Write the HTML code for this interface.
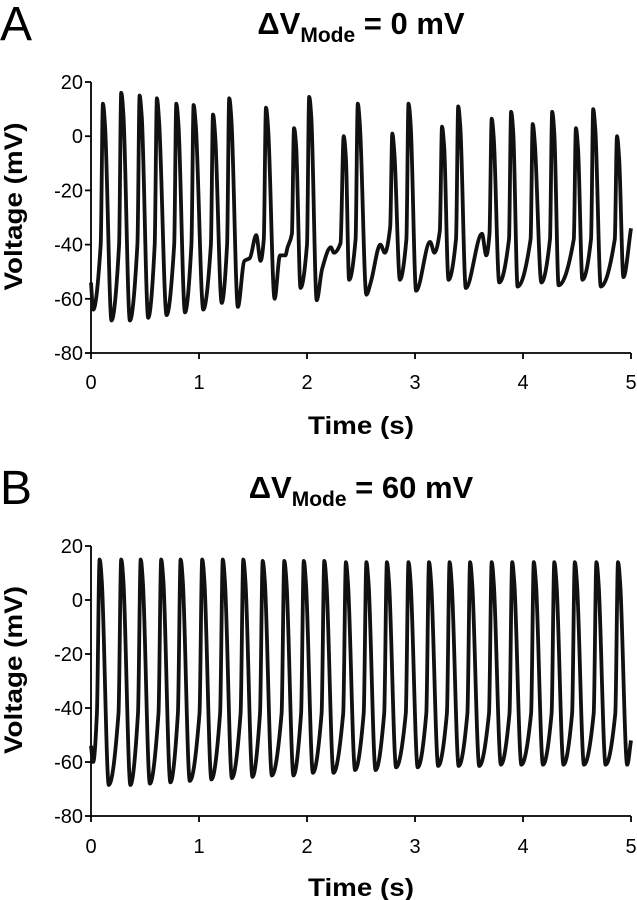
<!DOCTYPE html>
<html><head><meta charset="utf-8"><style>
body{margin:0;background:#fff;}
svg{display:block;font-family:"Liberation Sans",Arial,sans-serif;}
</style></head><body>
<svg id="fig" width="637" height="900" viewBox="0 0 637 900">
<text x="0" y="40" font-size="48">A</text>
<text x="361" y="34" font-size="31" font-weight="bold" text-anchor="middle">ΔV<tspan font-size="21" dy="8">Mode</tspan><tspan dy="-8"> = 0 mV</tspan></text>
<text x="0" y="504" font-size="48">B</text>
<text x="361" y="498" font-size="31" font-weight="bold" text-anchor="middle">ΔV<tspan font-size="21" dy="8">Mode</tspan><tspan dy="-8"> = 60 mV</tspan></text>
<g id="gA"></g>
<g id="gB"></g>
</svg>
<script>
const xTicks=[0,1,2,3,4,5];
const yTicks=[20,0,-20,-40,-60,-80];
const tA=[0,0.02,0.09,0.11,0.13,0.19,0.26,0.28,0.30,0.36,0.43,0.45,0.47,0.53,0.59,0.61,0.63,0.70,0.77,0.79,0.81,0.87,0.93,0.95,0.97,1.04,1.11,1.13,1.15,1.21,1.26,1.28,1.30,1.36,1.42,1.47,1.53,1.57,1.60,1.62,1.64,1.70,1.75,1.80,1.82,1.86,1.88,1.90,1.94,2.00,2.02,2.04,2.09,2.14,2.22,2.25,2.31,2.34,2.36,2.39,2.45,2.47,2.49,2.55,2.59,2.68,2.72,2.77,2.79,2.81,2.86,2.92,2.94,2.96,3.01,3.14,3.18,3.23,3.25,3.27,3.31,3.38,3.40,3.42,3.47,3.62,3.66,3.69,3.71,3.73,3.78,3.87,3.89,3.91,3.95,4.07,4.09,4.11,4.17,4.25,4.27,4.29,4.33,4.47,4.49,4.51,4.55,4.63,4.65,4.67,4.72,4.85,4.87,4.89,4.93,5.0];
const vA=[-54,-64,-40,12,4,-68,-40,16,8,-68,-40,15,7,-67,-40,14,6,-66,-40,12,4,-65,-40,11.5,4,-64,-40,8,0,-61.5,-40,14,6,-63,-46,-45,-36.5,-46,-38,10.5,3,-60,-44,-44,-41,-36,3,-4,-56,-40,14.5,7,-60.5,-49,-41,-43,-39.5,0,-8,-53,-38,12,4,-58.5,-54,-40,-43,-33.5,1,-7,-53,-38,12,4,-57,-39,-43,-35,3.5,-4,-53,-38,11,3,-56,-36,-44,-36,6.5,-1,-54,-38,9,1,-55.5,-38,4.5,-3,-54,-38,9,1,-55,-38,3,-5,-53,-38,10,2,-55.5,-38,0,-8,-52,-34];
const peakTB=[0.08,0.28,0.46,0.65,0.83,1.03,1.22,1.41,1.59,1.79,1.97,2.16,2.36,2.55,2.74,2.94,3.13,3.32,3.51,3.71,3.90,4.10,4.29,4.48,4.68,4.88];
const peakVB=[15,15,15,15,15,15,15,15,14.5,14.5,14.5,14.5,14,14,14,14,14,14,14,14,14,14,14,14,14,14];
const troughVB=[-68.5,-68.5,-68,-67.5,-67,-66.5,-66,-65.5,-65,-65,-64,-64,-63,-63,-62,-62,-61.5,-61.5,-61.5,-61,-61,-61,-61,-61,-61,-61];
const NS='http://www.w3.org/2000/svg';
function mk(tag,attrs,parent){const e=document.createElementNS(NS,tag);for(const k in attrs)e.setAttribute(k,attrs[k]);parent.appendChild(e);return e;}
function axes(g,top,bottom,xLabY,titleY){
  const x0=91,x1=631;
  const sx=t=>x0+t*(x1-x0)/5;
  const sy=v=>top+(20-v)*(bottom-top)/100;
  const ax=mk('path',{d:`M${x0} ${top}V${bottom}H${x1}`,stroke:'#000','stroke-width':1.8,fill:'none'},g);
  
  
  yTicks.forEach(v=>{
    const tk=mk('line',{x1:x0-6,x2:x0,y1:sy(v),y2:sy(v),stroke:'#000','stroke-width':1.8},g);
    
    
    const tx=mk('text',{x:x0-8,y:sy(v)+7,'font-size':20,'text-anchor':'end'},g);
    tx.textContent=v;
    
    
  });
  xTicks.forEach(t=>{
    const tk=mk('line',{x1:sx(t),x2:sx(t),y1:bottom,y2:bottom+6,stroke:'#000','stroke-width':1.8},g);
    
    
    const tx=mk('text',{x:sx(t),y:xLabY,'font-size':20,'text-anchor':'middle'},g);
    tx.textContent=t;
    
    
  });
  const yl=mk('text',{x:0,y:0,'font-size':25,'font-weight':'bold','text-anchor':'middle',textLength:168,lengthAdjust:'spacingAndGlyphs',transform:`translate(22 ${(top+bottom)/2-11}) rotate(-90)`},g);
  yl.textContent='Voltage (mV)';
  
  
  const xl=mk('text',{x:361,y:titleY,'font-size':25,'font-weight':'bold','text-anchor':'middle',textLength:106,lengthAdjust:'spacingAndGlyphs'},g);
  xl.textContent='Time (s)';
  
  
  return {sx,sy};
}
function smooth(P){
  const n=P.length,s=[],m=[];
  for(let i=0;i<n-1;i++){const dx=P[i+1][0]-P[i][0];s.push(dx?(P[i+1][1]-P[i][1])/dx:0);}
  for(let i=0;i<n;i++){
    if(i===0)m.push(s[0]);else if(i===n-1)m.push(s[n-2]);
    else if(s[i-1]*s[i]<=0)m.push(0);
    else m.push(2/(1/s[i-1]+1/s[i]));
  }
  let d='M'+P[0][0].toFixed(1)+' '+P[0][1].toFixed(1);
  for(let i=0;i<n-1;i++){
    const dx=(P[i+1][0]-P[i][0])/3;
    d+='C'+(P[i][0]+dx).toFixed(1)+' '+(P[i][1]+m[i]*dx).toFixed(1)+' '+(P[i+1][0]-dx).toFixed(1)+' '+(P[i+1][1]-m[i+1]*dx).toFixed(1)+' '+P[i+1][0].toFixed(1)+' '+P[i+1][1].toFixed(1);
  }
  return d;
}
// Panel A
const gA=document.getElementById('gA');
const A=axes(gA,82,353,389,434);
const PA=tA.map((t,i)=>[A.sx(t),A.sy(vA[i])]);
const pA=mk('path',{d:smooth(PA),stroke:'#111','stroke-width':3.8,fill:'none','stroke-linejoin':'round'},gA);


// Panel B
const gB=document.getElementById('gB');
const B=axes(gB,546,816,853,896);
const pts=[[0,-54],[0.02,-60]];
peakTB.forEach((p,i)=>{
  pts.push([p-0.025,-42]);
  pts.push([p,peakVB[i]]);
  pts.push([p+0.02,peakVB[i]-8]);
  pts.push([p+0.085,troughVB[i]]);
});
pts.push([5.0,-52]);
const PB=pts.filter(p=>p[0]<=5).map(p=>[B.sx(p[0]),B.sy(p[1])]);
const pB=mk('path',{d:smooth(PB),stroke:'#111','stroke-width':3.8,fill:'none','stroke-linejoin':'round'},gB);


</script>
</body></html>
